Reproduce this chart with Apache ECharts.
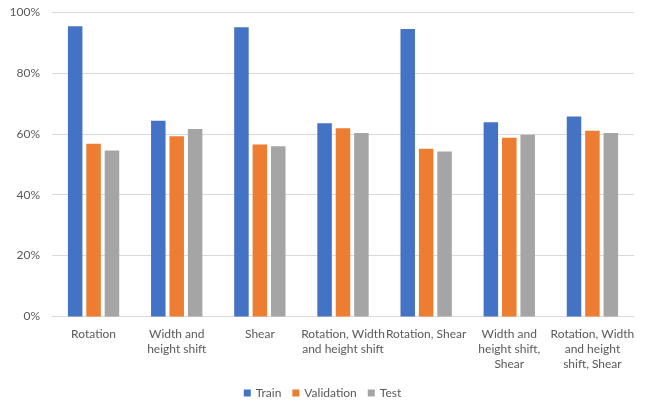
<!DOCTYPE html>
<html>
<head>
<meta charset="utf-8">
<script src="https://cdn.jsdelivr.net/npm/echarts@6/dist/echarts.min.js"></script>
<style>
  html, body { margin: 0; padding: 0; background: #fff; }
  #chart { width: 645px; height: 401px; }
</style>
</head>
<body>
<div id="chart"></div>
<script>
// Augmentation methods (labels wrapped as they appear under the axis)
const categories = [
  'Rotation',
  'Width and\nheight shift',
  'Shear',
  'Rotation, Width\nand height shift',
  'Rotation, Shear',
  'Width and\nheight shift,\nShear',
  'Rotation, Width\nand height\nshift, Shear'
];

// Accuracy per split, in percent
const train      = [95.3, 64.3, 95.0, 63.5, 94.4, 63.8, 65.7];
const validation = [56.7, 59.2, 56.5, 61.8, 55.1, 58.7, 61.0];
const test       = [54.5, 61.6, 55.9, 60.3, 54.2, 59.7, 60.3];

const seriesNames = ['Train', 'Validation', 'Test'];
const colors = ['#4472C4', '#ED7D31', '#A5A5A5'];

const chart = echarts.init(document.getElementById('chart'));
const fontFamily = 'Lato, "Open Sans", sans-serif';

chart.setOption({
  animation: false,
  color: colors,
  textStyle: { fontFamily: fontFamily },
  grid: { left: 52, right: 11, top: 12, bottom: 84.5, containLabel: false },
  legend: {
    data: seriesNames,
    bottom: 2,
    padding: 0,
    left: 'center',
    itemWidth: 7,
    itemHeight: 7,
    itemGap: 11,
    icon: 'rect',
    textStyle: { color: '#595959', fontSize: 12, fontFamily: fontFamily }
  },
  xAxis: {
    type: 'category',
    data: categories,
    axisLine: { lineStyle: { color: '#D9D9D9', width: 1 } },
    axisTick: { show: false },
    axisLabel: {
      color: '#595959',
      fontSize: 12,
      lineHeight: 15,
      margin: 10,
      interval: 0,
      fontFamily: fontFamily
    }
  },
  yAxis: {
    type: 'value',
    min: 0,
    max: 100,
    interval: 20,
    axisLine: { show: false },
    axisTick: { show: false },
    splitLine: { lineStyle: { color: '#D9D9D9', width: 1 } },
    axisLabel: {
      color: '#595959',
      fontSize: 12,
      margin: 12,
      fontFamily: fontFamily,
      formatter: '{value}%'
    }
  },
  series: [
    { name: 'Train', type: 'bar', data: train, barWidth: 14.5, barGap: '27%' },
    { name: 'Validation', type: 'bar', data: validation, barWidth: 14.5, barGap: '27%' },
    { name: 'Test', type: 'bar', data: test, barWidth: 14.5, barGap: '27%' }
  ]
});
</script>
</body>
</html>
